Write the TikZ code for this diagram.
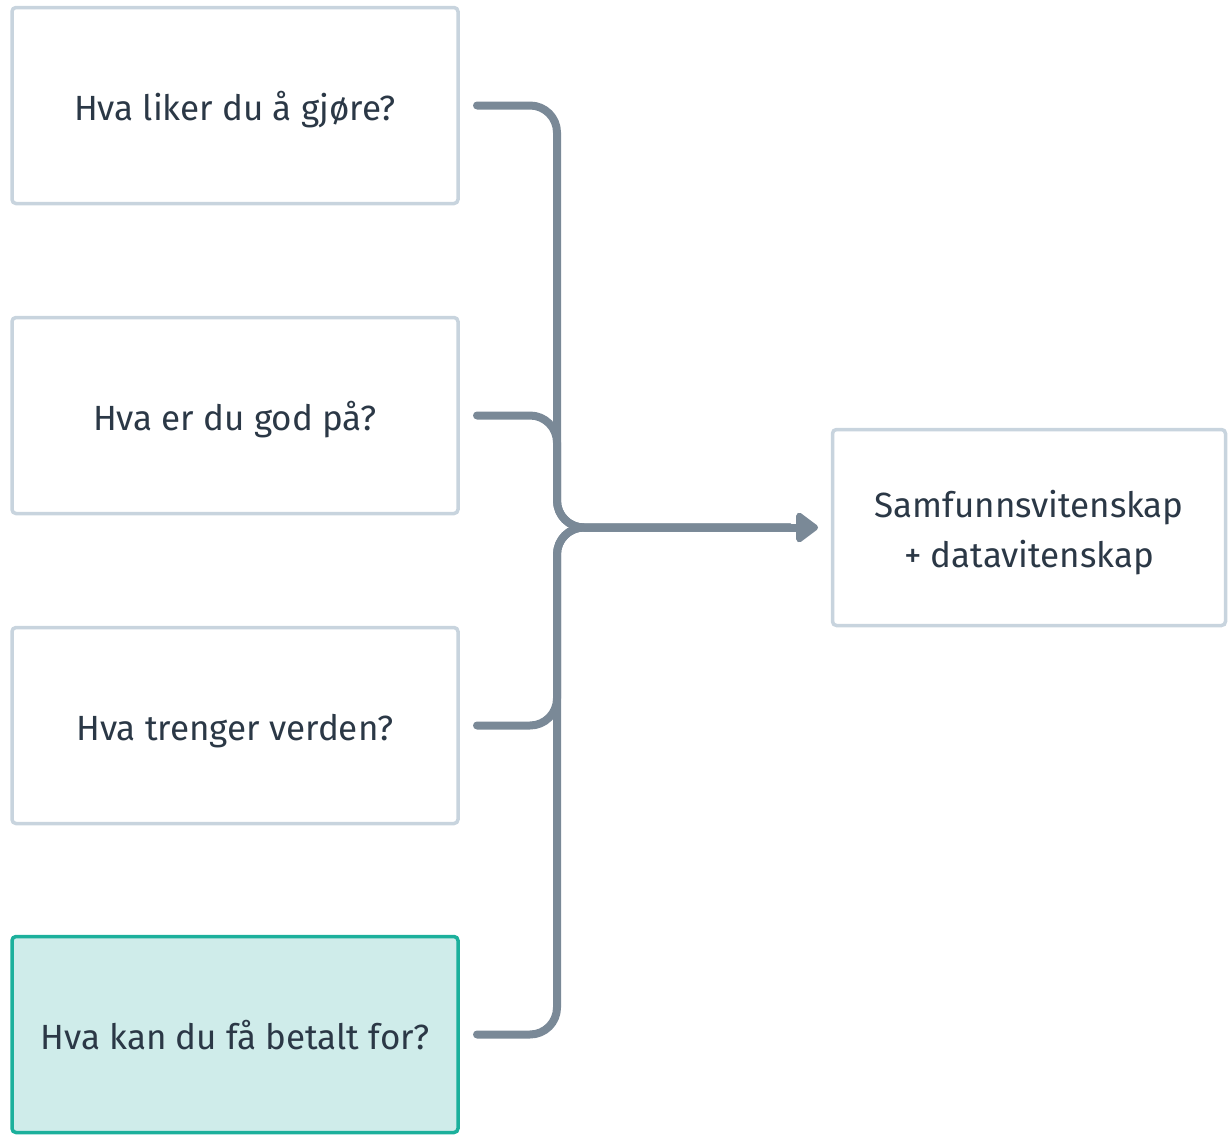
\documentclass[tikz,border=0pt]{standalone}
\usepackage{fontspec}
\setmainfont{Fira Sans}
\usetikzlibrary{arrows.meta,calc}
\definecolor{linegray}{RGB}{122,137,151}
\definecolor{boxborder}{RGB}{200,212,222}
\definecolor{tealborder}{RGB}{28,176,156}
\definecolor{tealfill}{RGB}{207,236,234}
\definecolor{textcol}{RGB}{43,56,70}
\tikzset{
  box/.style={draw=boxborder, line width=3.5pt, rounded corners=4pt, fill=white,
    minimum width=446pt, minimum height=196pt, text=textcol,
    font=\fontsize{35}{50}\selectfont, align=center, inner sep=0pt,
    text height=30pt, text depth=1pt},
  tealbox/.style={box, draw=tealborder, fill=tealfill},
  conn/.style={draw=linegray, line width=8pt, line cap=round, line join=round, rounded corners=27pt},
}
\begin{document}
\begin{tikzpicture}[x=1pt, y=-1pt]
\useasboundingbox (0,0) rectangle (1229,1135);
\node[box] (b1) at (235,105.5) {Hva liker du å gjøre?};
\node[box] (b2) at (235,415.5) {Hva er du god på?};
\node[box] (b3) at (235,725.5) {Hva trenger verden?};
\node[tealbox] (b4) at (235,1034.5) {Hva kan du få betalt for?};
\node[box, minimum width=393pt, text height=86pt, text depth=7pt] (t) at (1029,527.5) {Samfunnsvitenskap\\+ datavitenskap};
\coordinate (s1) at (477,105.5);
\coordinate (s2) at (477,415.5);
\coordinate (s3) at (477,725.5);
\coordinate (s4) at (477,1034.5);
\coordinate (bus) at (557,527.5);
\coordinate (end) at (818,527.5);
\coordinate (pre) at (790,527.5);
\draw[conn] (s1) -- (s1 -| bus) -- (bus) -- (pre);
\draw[conn] (s2) -- (s2 -| bus) -- (bus) -- (pre);
\draw[conn] (s3) -- (s3 -| bus) -- (bus) -- (pre);
\draw[conn] (s4) -- (s4 -| bus) -- (bus) -- (pre);
\draw[conn, rounded corners=0pt, -{Triangle[length=24pt,width=34pt,round]}] (pre) -- (end);
\end{tikzpicture}
\end{document}
